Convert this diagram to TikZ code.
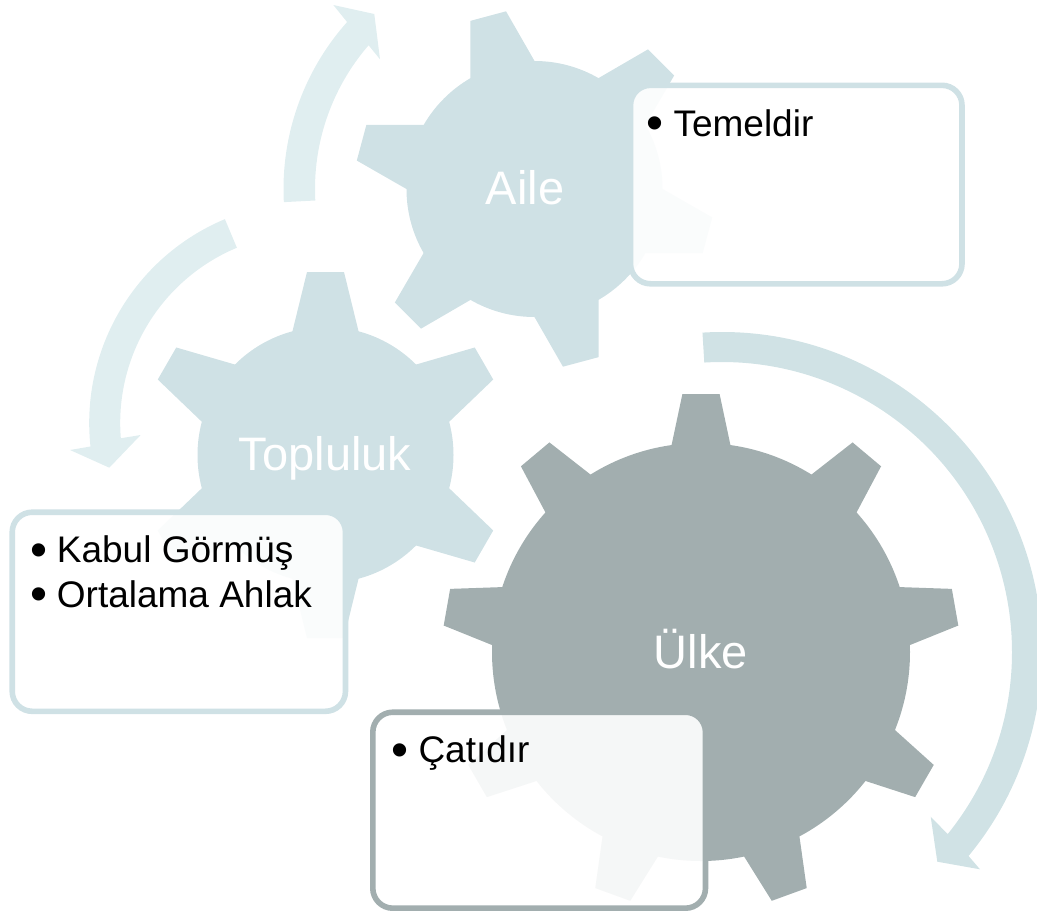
\documentclass[tikz,border=0pt]{standalone}
\usepackage{fontspec}
\setmainfont{Liberation Sans}
\usetikzlibrary{calc}
\definecolor{gearlight}{HTML}{CFE1E5}
\definecolor{geardark}{HTML}{A2AEAF}
\definecolor{arrowlight}{HTML}{E0EEF0}
\definecolor{arrowmid}{HTML}{D0E2E5}
% cx, cy, r, R, base half-width, tip half-width, n teeth, first tooth angle, colour
\newcommand\drawgear[9]{%
  \pgfmathsetmacro\gbw{#5+10*(#5-#6)/(#4-#3)}%
  \fill[#9] (#1,#2) circle[radius=#3];
  \foreach \k in {1,...,#7}{%
    \fill[#9, shift={(#1,#2)}, rotate={#8+(\k-1)*360/#7}]
      ({#3-10},{-\gbw}) -- ({#4},{-#6}) -- ({#4},{#6}) -- ({#3-10},{\gbw}) -- cycle;
  }%
}
\tikzset{
  gearlabel/.style={text=white, font=\fontsize{47}{56}\selectfont, inner sep=0pt, anchor=base},
  infobox/.style={rectangle, rounded corners=20pt, line width=5.6pt, fill=white, fill opacity=0.9, inner sep=0pt},
  item/.style={text=black, font=\fontsize{37}{44}\selectfont, inner sep=0pt, anchor=base west},
}
\newcommand\bul{\llap{\raisebox{-3.4pt}{\fontsize{48.6}{50}\selectfont\textbullet}\hspace{9.5pt}}}
\begin{document}
\begin{tikzpicture}[x=1pt,y=-1pt]
\useasboundingbox (0,0) rectangle (1037,911);
\clip (0,0) rectangle (1037,911);

% gears
\drawgear{534.5}{189}{128}{179}{32}{18.5}{6}{45}{gearlight}
\drawgear{325.5}{455}{128}{183}{32}{18.5}{6}{90}{gearlight}
\drawgear{701}{652}{209}{258}{29}{18.6}{9}{90}{geardark}

% arrow centres
\coordinate (c1) at (534.5,189);
\coordinate (c2) at (310.2,423);
\coordinate (c3) at (722,652);

% arrows
\fill[arrowlight] ($(c1)+(-183:251)$) arc[start angle=-183, end angle=-138.3, radius=251]
  -- (333.3,5) -- (374.3,14) -- (380,59.3)
  -- ($(c1)+(-139.1:219.5)$) arc[start angle=-139.1, end angle=-183, radius=219.5] -- cycle;
\fill[arrowlight] ($(c2)+(-112.7:221)$) arc[start angle=-112.7, end angle=-186.1, radius=221]
  -- (70,450) -- (109.3,467.7) -- (140.7,435)
  -- ($(c2)+(-184.6:190)$) arc[start angle=-184.6, end angle=-112.7, radius=190] -- cycle;
\fill[arrowmid] ($(c3)+(-93.5:320)$) arc[start angle=-93.5, end angle=39.6, radius=320]
  -- (980,869.3) -- (937.3,861.7) -- (930.7,816.7)
  -- ($(c3)+(38.9:290)$) arc[start angle=38.9, end angle=-93.5, radius=290] -- cycle;

% gear labels
\node[gearlabel] (aile) at (525,204) {Aile};
\node[gearlabel] (topluluk) at (325,470) {Topluluk};
\node[gearlabel] (ulke) at (701,668) {Ülke};

% boxes
\node[infobox, draw=gearlight, minimum width=331.5pt, minimum height=198.5pt] (box1) at (796.25,184.55) {};
\node[infobox, draw=gearlight, minimum width=333.3pt, minimum height=199.1pt] (box2) at (178.85,611.75) {};
\node[infobox, draw=geardark, minimum width=332.7pt, minimum height=196pt] (box3) at (539.15,810.2) {};

% box texts
\node[item] (t1) at (673.3,136) {\bul Temeldir};
\node[item] (t2) at (56.7,562.7) {\bul Kabul Görmüş};
\node[item] (t3) at (56.7,607.3) {\bul Ortalama Ahlak};
\node[item] (t4) at (418.3,762.7) {\bul Çatıdır};
\end{tikzpicture}
\end{document}
